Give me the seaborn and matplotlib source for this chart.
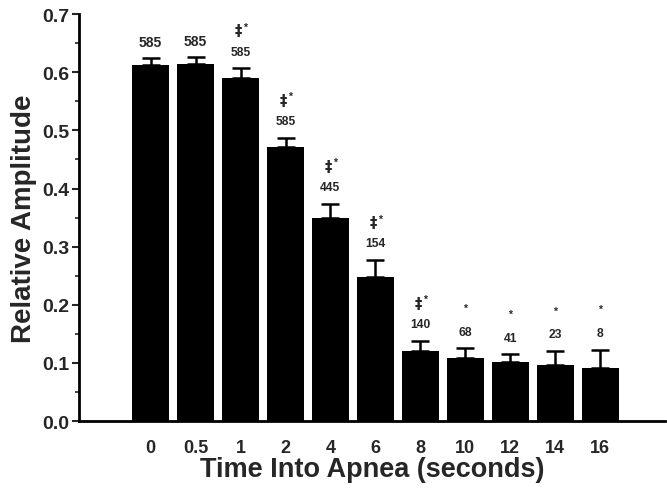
import numpy as np
import pandas as pd
import matplotlib
matplotlib.use("Agg")
import matplotlib.pyplot as plt
from matplotlib.ticker import MultipleLocator, FormatStrFormatter
import seaborn as sns

# ---- data ----
times = ["0", "0.5", "1", "2", "4", "6", "8", "10", "12", "14", "16"]
amplitude = [0.612, 0.615, 0.591, 0.472, 0.350, 0.248, 0.120, 0.108, 0.101, 0.096, 0.091]
sem = [0.012, 0.011, 0.016, 0.015, 0.024, 0.029, 0.018, 0.017, 0.014, 0.025, 0.032]
counts = [585, 585, 585, 585, 445, 154, 140, 68, 41, 23, 8]
dagger = [False, False, True, True, True, True, True, False, False, False, False]
star = [False, False, True, True, True, True, True, True, True, True, True]

sns.set_style("ticks")
plt.rcParams['font.family'] = ['Liberation Sans', 'DejaVu Sans']
plt.rcParams['font.weight'] = 'bold'

df = pd.DataFrame({"time": times, "amp": amplitude})

fig = plt.figure(figsize=(6.67, 4.89), dpi=100)
ax = fig.add_axes([0.118, 0.137, 0.879, 0.832])

sns.barplot(data=df, x="time", y="amp", order=times, color="black",
            saturation=1, width=0.83, ax=ax, errorbar=None, zorder=3)
for p in ax.patches:
    p.set_edgecolor("none")

xpos = np.arange(len(times))
ax.errorbar(xpos, amplitude, yerr=[np.zeros(len(sem)), sem], fmt="none",
            ecolor="black", elinewidth=1.8, capsize=6.5, capthick=1.8, zorder=2)

for i in range(len(times)):
    top = amplitude[i] + sem[i]
    fs = 10 if i < 2 else 8.7
    ax.annotate(str(counts[i]), (xpos[i], top), xytext=(0, 12),
                textcoords="offset points", ha="center", va="center",
                fontsize=fs, fontweight="bold")
    if dagger[i]:
        ax.annotate("‡", (xpos[i], top), xytext=(-1.5, 27),
                    textcoords="offset points", ha="center", va="center",
                    fontsize=10.5, fontweight="bold", family=["DejaVu Sans"])
        ax.annotate("*", (xpos[i], top), xytext=(3.5, 30),
                    textcoords="offset points", ha="center", va="center",
                    fontsize=7.5, fontweight="bold")
    elif star[i]:
        ax.annotate("*", (xpos[i], top), xytext=(0, 29),
                    textcoords="offset points", ha="center", va="center",
                    fontsize=7.5, fontweight="bold")

ax.set_ylim(0, 0.7)
ax.set_xlim(-1.6, 11.44)
ax.yaxis.set_major_locator(MultipleLocator(0.1))
ax.yaxis.set_minor_locator(MultipleLocator(0.05))
ax.yaxis.set_major_formatter(FormatStrFormatter("%.1f"))
ax.tick_params(axis="y", which="major", length=5, width=1.5, labelsize=14, pad=1.5)
ax.tick_params(axis="y", which="minor", length=3, width=1.2)
ax.tick_params(axis="x", length=0, labelsize=13, pad=13)
for lab in ax.get_xticklabels() + ax.get_yticklabels():
    lab.set_fontweight("bold")

sns.despine(ax=ax)
for s in ["left", "bottom"]:
    ax.spines[s].set_linewidth(2)
    ax.spines[s].set_color("black")

ax.set_xlabel("Time Into Apnea (seconds)", fontsize=19.5, fontweight="bold", labelpad=0)
ax.set_ylabel("Relative Amplitude", fontsize=20, fontweight="bold", labelpad=4)

fig.savefig("out.png", dpi=100)
